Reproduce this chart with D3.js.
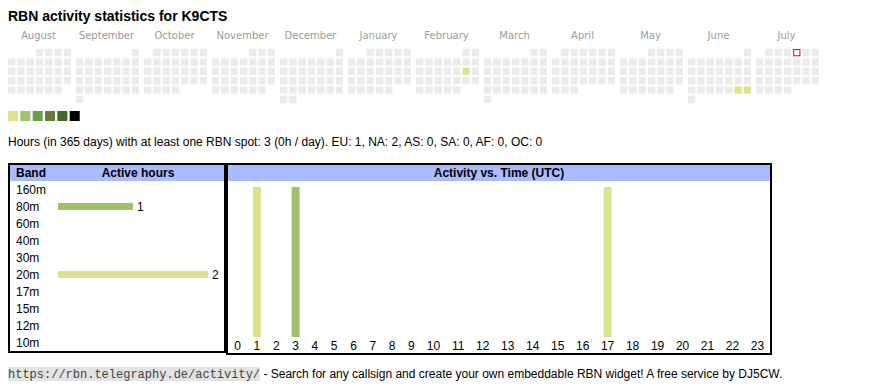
<!DOCTYPE html>
<html><head><meta charset="utf-8">
<script src="https://cdn.jsdelivr.net/npm/d3@7"></script>
<style>
html,body{margin:0;padding:0;background:#fff;}
svg{display:block;}
</style></head>
<body>
<svg id="chart" width="870" height="390" font-family='"Liberation Sans",Arial,sans-serif'></svg>
<script>
// ---------- DATA ----------
const title = "RBN activity statistics for K9CTS";
const months = ["August","September","October","November","December","January","February","March","April","May","June","July"];
const monthYears = [2024,2024,2024,2024,2024,2025,2025,2025,2025,2025,2025,2025];
const monthIndex = [7,8,9,10,11,0,1,2,3,4,5,6];
const activeDays = ["2025-02-15","2025-06-28","2025-06-29"];
const activeDayHours = [1,1,1];
const today = "2025-07-04";
const levelColors = ["#dce38c","#9fc46c","#6a9d45","#6b7b3c","#3d6a27","#000000"];
const statsText = "Hours (in 365 days) with at least one RBN spot: 3 (0h / day). EU: 1, NA: 2, AS: 0, SA: 0, AF: 0, OC: 0";
const bands = ["160m","80m","60m","40m","30m","20m","17m","15m","12m","10m"];
const bandHours = [0,1,0,0,0,2,0,0,0,0];
const bandColors = {"80m":"#9dc26b","20m":"#dbe28b"};
const hours = d3.range(0,24);
const hourBand = {1:"20m",3:"80m",17:"20m"};
const hourActivity = {1:1,3:1,17:1};
const footerLink = "https://rbn.telegraphy.de/activity/";
const footerText = " - Search for any callsign and create your own embeddable RBN widget! A free service by DJ5CW.";

// ---------- DRAW ----------
const svg = d3.select("#chart");

svg.append("text").attr("x",8).attr("y",21).attr("font-size",14).attr("font-weight","bold")
  .attr("fill","#000").text(title);

// Calendar
const xMonth = d3.scaleBand().domain(months).range([8, 8+12*68]);
const xDow = d3.scaleBand().domain(d3.range(7)).range([0,63]).paddingInner(2/9).paddingOuter(0);
const yWeek = d3.scaleBand().domain(d3.range(6)).range([49,49+54]).paddingInner(2/9).paddingOuter(0);
const activeMap = new Map(activeDays.map((d,i)=>[d,activeDayHours[i]]));
const levelScale = d3.scaleThreshold().domain([2,4,8,16,24]).range(levelColors);
const fmt = d3.timeFormat("%Y-%m-%d");

const cells = [];
months.forEach((m,mi)=>{
  const y = monthYears[mi], mo = monthIndex[mi];
  const first = new Date(y, mo, 1);
  const firstDow = (first.getDay()+6)%7;
  const nDays = new Date(y, mo+1, 0).getDate();
  for(let d=1; d<=nDays; d++){
    const dt = new Date(y, mo, d);
    const dow = (dt.getDay()+6)%7;
    const wk = Math.floor((d-1+firstDow)/7);
    cells.push({month:m, dow, wk, key:fmt(dt)});
  }
});
const monthG = svg.append("g");
monthG.selectAll("text.month").data(months).join("text")
  .attr("class","month")
  .attr("x", m=>xMonth(m)+ 30.5)
  .attr("y",39).attr("text-anchor","middle")
  .attr("font-family",'"DejaVu Sans",Verdana,sans-serif').attr("font-size",10)
  .attr("fill","#9a9a9a").text(m=>m);
monthG.selectAll("rect.day").data(cells).join("rect")
  .attr("class","day")
  .attr("x", c=>xMonth(c.month)+xDow(c.dow) + (c.key===today?0.5:0))
  .attr("y", c=>yWeek(c.wk) + (c.key===today?0.5:0))
  .attr("width", c=>xDow.bandwidth() - (c.key===today?1:0))
  .attr("height", c=>yWeek.bandwidth() - (c.key===today?1:0))
  .attr("fill", c=> c.key===today ? "#fff" : (activeMap.has(c.key) ? levelScale(activeMap.get(c.key)) : "#ebebeb"))
  .attr("stroke", c=> c.key===today ? "#e00000" : "none")
  .attr("stroke-width",1);

// Legend
const xLeg = d3.scaleBand().domain(d3.range(levelColors.length)).range([8, 8+12*levelColors.length]).paddingInner(2/12).paddingOuter(0);
svg.append("g").selectAll("rect").data(levelColors).join("rect")
  .attr("x",(c,i)=>xLeg(i)).attr("y",111).attr("width",10).attr("height",10).attr("fill",c=>c);

// Stats
svg.append("text").attr("x",8).attr("y",146).attr("font-size",12).attr("fill","#000").text(statsText);

// Tables
const L = {x0:8, x1:226, y0:163, y1:353};
const R = {x0:226, x1:772, y0:163, y1:355};
const headH = 16;
[L,R].forEach(t=>{
  svg.append("rect").attr("x",t.x0+2).attr("y",t.y0+2).attr("width",t.x1-t.x0-4).attr("height",headH).attr("fill","#aabbff");
  svg.append("rect").attr("x",t.x0+1).attr("y",t.y0+1).attr("width",t.x1-t.x0-2).attr("height",t.y1-t.y0-2)
    .attr("fill","none").attr("stroke","#000").attr("stroke-width",2);
});
svg.append("text").attr("x",16).attr("y",177).attr("font-size",12).attr("font-weight","bold").text("Band");
svg.append("text").attr("x",138).attr("y",177).attr("font-size",12).attr("font-weight","bold").attr("text-anchor","middle").text("Active hours");
svg.append("text").attr("x",(R.x0+R.x1)/2).attr("y",177).attr("font-size",12).attr("font-weight","bold").attr("text-anchor","middle").text("Activity vs. Time (UTC)");

const yBand = d3.scaleBand().domain(bands).range([181, 351]);
const xHours = d3.scaleLinear().domain([0, d3.max(bandHours)]).range([58, 208]);
const bandG = svg.append("g");
bandG.selectAll("text.bl").data(bands).join("text").attr("class","bl")
  .attr("x",16).attr("y",b=>yBand(b)+yBand.bandwidth()/2+4.3).attr("font-size",12).text(b=>b);
const bandRows = bands.map((b,i)=>({band:b, v:bandHours[i]})).filter(d=>d.v>0);
bandG.selectAll("rect.bb").data(bandRows).join("rect").attr("class","bb")
  .attr("x",xHours(0)).attr("y",d=>yBand(d.band)+yBand.bandwidth()/2-3.5)
  .attr("width",d=>xHours(d.v)-xHours(0)).attr("height",7).attr("fill",d=>bandColors[d.band]);
bandG.selectAll("text.bv").data(bandRows).join("text").attr("class","bv")
  .attr("x",d=>xHours(d.v)+4).attr("y",d=>yBand(d.band)+yBand.bandwidth()/2+4.3)
  .attr("font-size",12).text(d=>d.v);

// Hour columns (auto-width table layout)
const meas = svg.append("text").attr("font-size",12).attr("visibility","hidden");
const tw = hours.map(h=>{ meas.text(String(h)); return meas.node().getComputedTextLength()+16; });
meas.remove();
const innerX0 = R.x0+2, innerX1 = R.x1-2;
const totW = d3.sum(tw);
const colScale = d3.scaleLinear().domain([0,totW]).range([innerX0, innerX1]);
const cum = d3.cumsum(tw);
const colCenter = h => colScale(cum[h]-tw[h]/2);
const yAct = d3.scaleLinear().domain([0,1]).range([337,187]);
const hourG = svg.append("g");
hourG.selectAll("text").data(hours).join("text")
  .attr("x",h=>colCenter(h)).attr("y",350).attr("text-anchor","middle").attr("font-size",12).text(h=>h);
const actData = Object.keys(hourActivity).map(k=>({hour:+k, v:hourActivity[k], band:hourBand[k]}));
hourG.selectAll("rect").data(actData).join("rect")
  .attr("x",d=>colCenter(d.hour)-4).attr("width",8)
  .attr("y",d=>yAct(d.v)).attr("height",d=>yAct(0)-yAct(d.v)).attr("fill",d=>bandColors[d.band]);

// Footer
const footG = svg.append("g");
const bgRect = footG.append("rect").attr("x",8).attr("y",367).attr("height",14).attr("fill","#e3e3e3");
const linkT = footG.append("text").attr("x",8).attr("y",378)
  .attr("font-family",'"Liberation Mono","Courier New",monospace').attr("font-size",12).attr("fill","#444").text(footerLink);
const lw = linkT.node().getComputedTextLength();
bgRect.attr("width",lw);
footG.append("text").attr("x",8+lw).attr("y",378).attr("font-size",12).attr("fill","#000")
  .style("white-space","pre").text(footerText);
</script>
</body></html>
